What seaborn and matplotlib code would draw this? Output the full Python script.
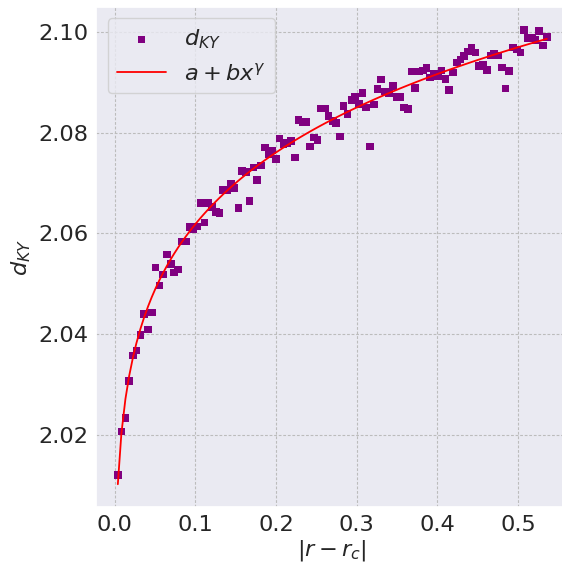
import numpy as np
import pandas as pd
import matplotlib
matplotlib.use("Agg")
import matplotlib.pyplot as plt
import seaborn as sns

# distance from the critical point
r_dist = [
    0.0040, 0.0084, 0.0134, 0.0180, 0.0229, 0.0270, 0.0320, 0.0366, 0.0415, 0.0460,
    0.0506, 0.0555, 0.0600, 0.0647, 0.0696, 0.0737, 0.0787, 0.0832, 0.0882, 0.0927,
    0.0977, 0.1022, 0.1072, 0.1113, 0.1163, 0.1204, 0.1254, 0.1299, 0.1345, 0.1390,
    0.1440, 0.1485, 0.1535, 0.1576, 0.1626, 0.1670, 0.1720, 0.1766, 0.1811, 0.1861,
    0.1906, 0.1955, 0.2001, 0.2042, 0.2092, 0.2138, 0.2187, 0.2233, 0.2278, 0.2327,
    0.2377, 0.2423, 0.2468, 0.2513, 0.2555, 0.2608, 0.2649, 0.2703, 0.2745, 0.2794,
    0.2835, 0.2885, 0.2934, 0.2980, 0.3026, 0.3071, 0.3116, 0.3166, 0.3212, 0.3257,
    0.3302, 0.3352, 0.3398, 0.3447, 0.3492, 0.3538, 0.3584, 0.3633, 0.3678, 0.3724,
    0.3773, 0.3819, 0.3864, 0.3910, 0.3959, 0.4005, 0.4050, 0.4099, 0.4145, 0.4191,
    0.4240, 0.4285, 0.4331, 0.4377, 0.4421, 0.4471, 0.4517, 0.4563, 0.4612, 0.4657,
    0.4703, 0.4752, 0.4798, 0.4843, 0.4889, 0.4934, 0.4984, 0.5029, 0.5074, 0.5120,
    0.5170, 0.5214, 0.5260, 0.5310, 0.5356,
]

# Kaplan-Yorke dimension
d_ky = [
    2.0120, 2.0206, 2.0233, 2.0306, 2.0357, 2.0367, 2.0398, 2.0440, 2.0409, 2.0443,
    2.0532, 2.0496, 2.0518, 2.0558, 2.0539, 2.0522, 2.0528, 2.0584, 2.0584, 2.0613,
    2.0608, 2.0614, 2.0660, 2.0622, 2.0660, 2.0653, 2.0643, 2.0641, 2.0686, 2.0686,
    2.0698, 2.0690, 2.0651, 2.0724, 2.0722, 2.0664, 2.0731, 2.0706, 2.0735, 2.0771,
    2.0757, 2.0765, 2.0748, 2.0789, 2.0778, 2.0780, 2.0784, 2.0751, 2.0826, 2.0822,
    2.0822, 2.0773, 2.0791, 2.0786, 2.0848, 2.0848, 2.0834, 2.0824, 2.0820, 2.0793,
    2.0853, 2.0837, 2.0865, 2.0871, 2.0857, 2.0879, 2.0850, 2.0773, 2.0856, 2.0887,
    2.0906, 2.0882, 2.0879, 2.0893, 2.0871, 2.0871, 2.0850, 2.0847, 2.0922, 2.0889,
    2.0922, 2.0924, 2.0929, 2.0910, 2.0918, 2.0912, 2.0924, 2.0907, 2.0885, 2.0920,
    2.0940, 2.0946, 2.0953, 2.0962, 2.0970, 2.0960, 2.0933, 2.0936, 2.0925, 2.0954,
    2.0957, 2.0954, 2.0930, 2.0888, 2.0923, 2.0970, 2.0966, 2.0960, 2.1005, 2.0989,
    2.0989, 2.0985, 2.1003, 2.0974, 2.0990,
]

# power-law fit parameters: a + b x^gamma
fit_a = 1.9106
fit_b = 0.204
fit_gamma = 0.13

x_ticks = [0.0, 0.1, 0.2, 0.3, 0.4, 0.5]
y_ticks = [2.02, 2.04, 2.06, 2.08, 2.10]

sns.set_theme(style="darkgrid")
plt.rcParams["font.family"] = ["DejaVu Sans"]

df = pd.DataFrame({"r": r_dist, "dky": d_ky})
x_arr = np.asarray(r_dist)
fit_df = pd.DataFrame({"r": x_arr, "fit": fit_a + fit_b * x_arr ** fit_gamma})

fig = plt.figure(figsize=(5.62, 5.62), dpi=100)
ax = fig.add_axes([0.1715, 0.098, 0.8396, 0.8895])

sns.scatterplot(data=df, x="r", y="dky", marker="s", s=30, color="#800080",
                edgecolor="none", label=r"$d_{KY}$", ax=ax, zorder=3)
sns.lineplot(data=fit_df, x="r", y="fit", color="#ff0000", linewidth=1.3,
             label=r"$a + bx^{\gamma}$", ax=ax, zorder=4)

ax.grid(True, color="#bcbcbc", linestyle=(0, (2.5, 1.6)), linewidth=0.8)
ax.set_xticks(x_ticks)
ax.set_yticks(y_ticks)
ax.set_xticklabels([f"{v:.1f}" for v in x_ticks])
ax.set_yticklabels([f"{v:.2f}" for v in y_ticks])
ax.tick_params(labelsize=16.2, length=0, pad=5.5)
ax.set_xlabel(r"$|r - r_c|$", fontsize=16.2)
ax.set_ylabel(r"$d_{KY}$", fontsize=16.2)
ax.xaxis.set_label_coords(0.5, -0.062)
ax.yaxis.set_label_coords(-0.134, 0.5)

leg = ax.legend(loc="upper left", fontsize=16.2, frameon=True, handlelength=2.2)

fig.savefig("out.png", dpi=100)
